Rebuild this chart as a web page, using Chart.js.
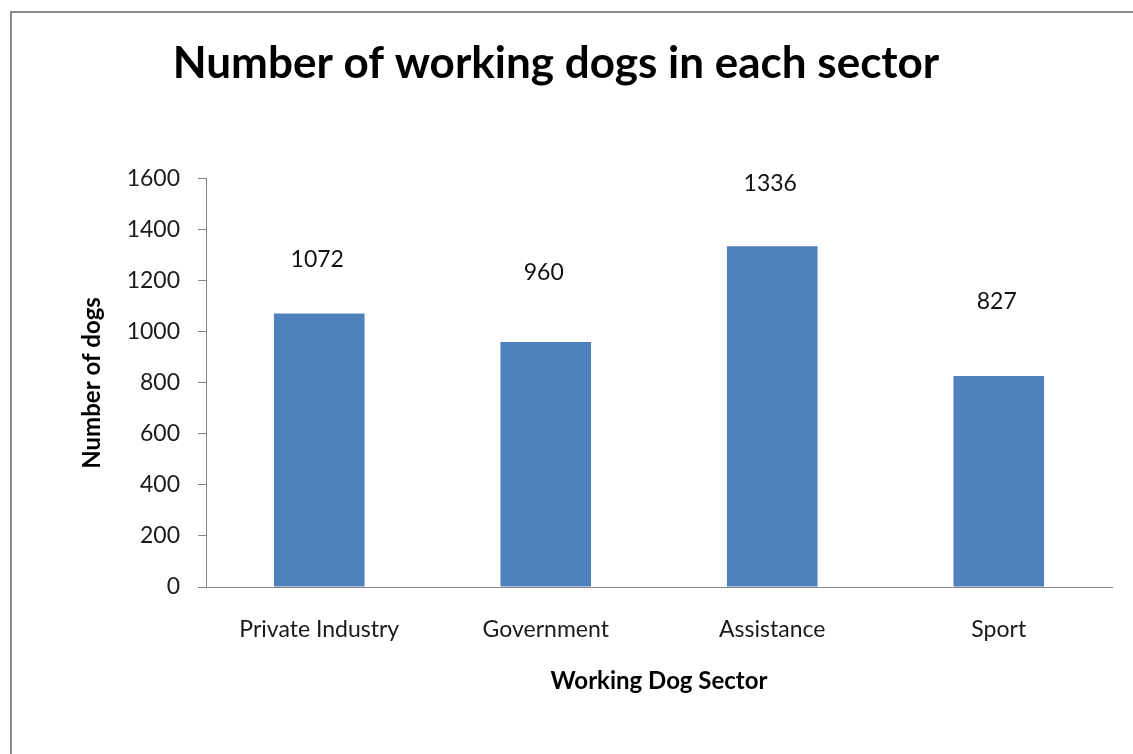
<!DOCTYPE html>
<html>
<head>
<meta charset="utf-8">
<script src="https://cdn.jsdelivr.net/npm/chart.js@4.4.1/dist/chart.umd.min.js"></script>
<style>
  html, body { margin: 0; padding: 0; background: #fff; overflow: hidden; }
  #frame {
    position: absolute; left: 10px; top: 11px;
    width: 1200px; height: 800px;
    border: 2px solid #8c8c8c; box-sizing: border-box;
  }
  #wrap { position: absolute; left: 0; top: 0; width: 1133px; height: 754px; }
</style>
</head>
<body>
<div id="frame"></div>
<div id="wrap"><canvas id="chart" width="1133" height="754"></canvas></div>
<script>
// Working dogs by sector
const sectors = ['Private Industry', 'Government', 'Assistance', 'Sport'];
const dogCounts = [1072, 960, 1336, 827];
const yTicks = [0, 200, 400, 600, 800, 1000, 1200, 1400, 1600];

const FONT = 'Lato, "Open Sans", sans-serif';
const AXIS_GREY = '#868686';

// Value labels floating above each bar (pixel lift per bar)
const valueLabels = {
  id: 'valueLabels',
  afterDatasetsDraw(chart, args, opts) {
    const { ctx } = chart;
    const meta = chart.getDatasetMeta(0);
    ctx.save();
    ctx.font = opts.font;
    ctx.fillStyle = opts.color;
    ctx.textAlign = 'center';
    ctx.textBaseline = 'middle';
    meta.data.forEach((bar, i) => {
      const v = chart.data.datasets[0].data[i];
      ctx.fillText(String(v), bar.x - 2, bar.y - opts.lift[i]);
    });
    ctx.restore();
  }
};

new Chart(document.getElementById('chart'), {
  type: 'bar',
  data: {
    labels: sectors,
    datasets: [{
      data: dogCounts,
      backgroundColor: '#4F81BD',
      borderWidth: 0,
      categoryPercentage: 1.0,
      barPercentage: 0.4
    }]
  },
  plugins: [valueLabels],
  options: {
    responsive: false,
    animation: false,
    devicePixelRatio: 1,
    layout: { padding: { left: 0, right: 21, top: 0, bottom: 0 } },
    plugins: {
      legend: { display: false },
      tooltip: { enabled: false },
      title: {
        display: true,
        text: 'Number of working dogs in each sector',
        color: '#000',
        font: { family: FONT, size: 44, weight: 'bold', lineHeight: 1.2 },
        padding: { top: 37, bottom: 89 }
      },
      valueLabels: {
        font: '23px ' + FONT,
        color: '#111',
        lift: [54, 70, 63, 74]
      }
    },
    scales: {
      x: {
        afterFit(scale) { scale.height = 167; },
        grid: { display: false, drawTicks: false },
        border: { display: true, color: AXIS_GREY, width: 1 },
        ticks: { color: '#1a1a1a', font: { family: FONT, size: 23 }, padding: 29, maxRotation: 0 },
        title: {
          display: true,
          text: 'Working Dog Sector',
          color: '#000',
          font: { family: FONT, size: 24, weight: 'bold', lineHeight: 1.2 },
          padding: { top: 0, bottom: 58 }
        }
      },
      y: {
        min: 0,
        max: 1600,
        afterFit(scale) { scale.width = 206; },
        afterBuildTicks(scale) { scale.ticks = yTicks.map(v => ({ value: v })); },
        grid: { display: true, drawOnChartArea: false, drawTicks: true, tickLength: 8, color: AXIS_GREY },
        border: { display: true, color: AXIS_GREY, width: 1 },
        ticks: {
          color: '#1a1a1a',
          font: { family: FONT, size: 23 },
          padding: 18,
          callback: v => String(v)
        },
        title: {
          display: true,
          text: 'Number of dogs',
          color: '#000',
          font: { family: FONT, size: 24, weight: 'bold', lineHeight: 1.2 },
          padding: { top: 78, bottom: 0 }
        }
      }
    }
  }
});
</script>
</body>
</html>
